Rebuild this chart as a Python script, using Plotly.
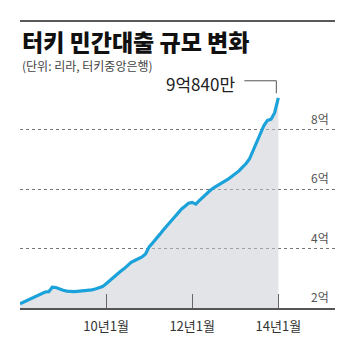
import pandas as pd
import plotly.graph_objects as go

# Monthly private-sector loan balance in Turkey, in hundred-million lira (억)
months = pd.date_range("2008-01-01", "2014-01-01", freq="MS")
loans = [
    2.14, 2.20, 2.27, 2.32, 2.37, 2.42, 2.50, 2.54, 2.55, 2.70, 2.69, 2.64,
    2.60, 2.57, 2.55, 2.55, 2.56, 2.57, 2.58, 2.60, 2.61, 2.64, 2.68, 2.72,
    2.82, 2.93, 3.04, 3.13, 3.23, 3.32, 3.44, 3.54, 3.60, 3.66, 3.72, 3.82,
    4.06, 4.20, 4.35, 4.48, 4.63, 4.76, 4.90, 5.05, 5.19, 5.33, 5.43, 5.53,
    5.56, 5.50, 5.62, 5.74, 5.86, 5.96, 6.05, 6.12, 6.20, 6.27, 6.34, 6.43,
    6.52, 6.62, 6.74, 6.86, 7.02, 7.30, 7.62, 7.90, 8.15, 8.32, 8.36, 8.58,
    9.084,
]

x_tick_dates = ["2010-01-01", "2012-01-01", "2014-01-01"]
x_tick_labels = ["10년1월", "12년1월", "14년1월"]
y_levels = [2, 4, 6, 8]
y_labels = ["2억", "4억", "6억", "8억"]
last_label = "9억840만"

title = "터키 민간대출 규모 변화"
subtitle = "(단위: 리라, 터키중앙은행)"

FONT = "Noto Sans CJK KR"
BLUE = "#1ca2da"

fig = go.Figure()

# shaded area under the curve (semi-transparent so the dotted grid shows through)
fig.add_trace(go.Scatter(
    x=months, y=loans, mode="lines",
    line=dict(width=0, color="rgba(0,0,0,0)"),
    fill="tozeroy", fillcolor="rgba(200,202,208,0.5)",
    hoverinfo="skip", showlegend=False,
))
# the loan curve itself
fig.add_trace(go.Scatter(
    x=months, y=loans, mode="lines",
    line=dict(width=3.2, color=BLUE, shape="linear"),
    showlegend=False,
))

annotations = []
# value labels sitting above each gridline at the right edge
for v, lab in zip(y_levels, y_labels):
    annotations.append(dict(
        x=0.951, xref="paper", y=v, yref="y", text=lab,
        xanchor="center", yanchor="bottom", yshift=1, showarrow=False,
        font=dict(family=FONT, size=12, color="#555"),
    ))

# callout for the latest value
annotations.append(dict(
    x=months[-1], y=loans[-1], xref="x", yref="y", text=last_label,
    xanchor="right", yanchor="middle", xshift=-41, yshift=14, showarrow=False,
    font=dict(family=FONT, size=17, color="#222"),
))

# title block
annotations.append(dict(
    x=0, xref="paper", y=1.1225, yref="paper", text=title,
    xanchor="left", yanchor="middle", showarrow=False,
    font=dict(family=FONT, size=23, color="#111", weight=900),
))
annotations.append(dict(
    x=0, xref="paper", y=1.017, yref="paper", text=subtitle,
    xanchor="left", yanchor="middle", showarrow=False,
    font=dict(family=FONT, size=12, color="#444"),
))

shapes = [
    # rule above the title
    dict(type="line", xref="paper", yref="paper", x0=0, x1=1, y0=1.206, y1=1.206,
         line=dict(color="#222", width=1.5)),
    # elbow leader from the callout to the last point
    dict(type="path", xref="x", yref="y", xsizemode="pixel", ysizemode="pixel",
         xanchor=months[-1], yanchor=loans[-1],
         path="M -34,17 L -2,17 L -2,4.5",
         line=dict(color="#555", width=1)),
]

fig.update_layout(
    width=351, height=348,
    margin=dict(l=20, r=16, t=70, b=40),
    paper_bgcolor="white", plot_bgcolor="white",
    font=dict(family=FONT),
    annotations=annotations, shapes=shapes,
    xaxis=dict(
        type="date", range=["2008-01-01", "2015-04-27"],
        tickvals=x_tick_dates, ticktext=x_tick_labels,
        ticks="inside", ticklen=14, tickcolor="#666", tickwidth=1,
        showline=True, linecolor="#555", linewidth=2,
        showgrid=False, zeroline=False, ticklabelstandoff=5,
        tickfont=dict(family=FONT, size=13, color="#333"),
    ),
    yaxis=dict(
        range=[2, 10.02], tickvals=y_levels[1:], showticklabels=False,
        showgrid=True, griddash="dot", gridcolor="#777", gridwidth=1,
        zeroline=False, ticks="",
    ),
)

fig.write_html("out.html")
